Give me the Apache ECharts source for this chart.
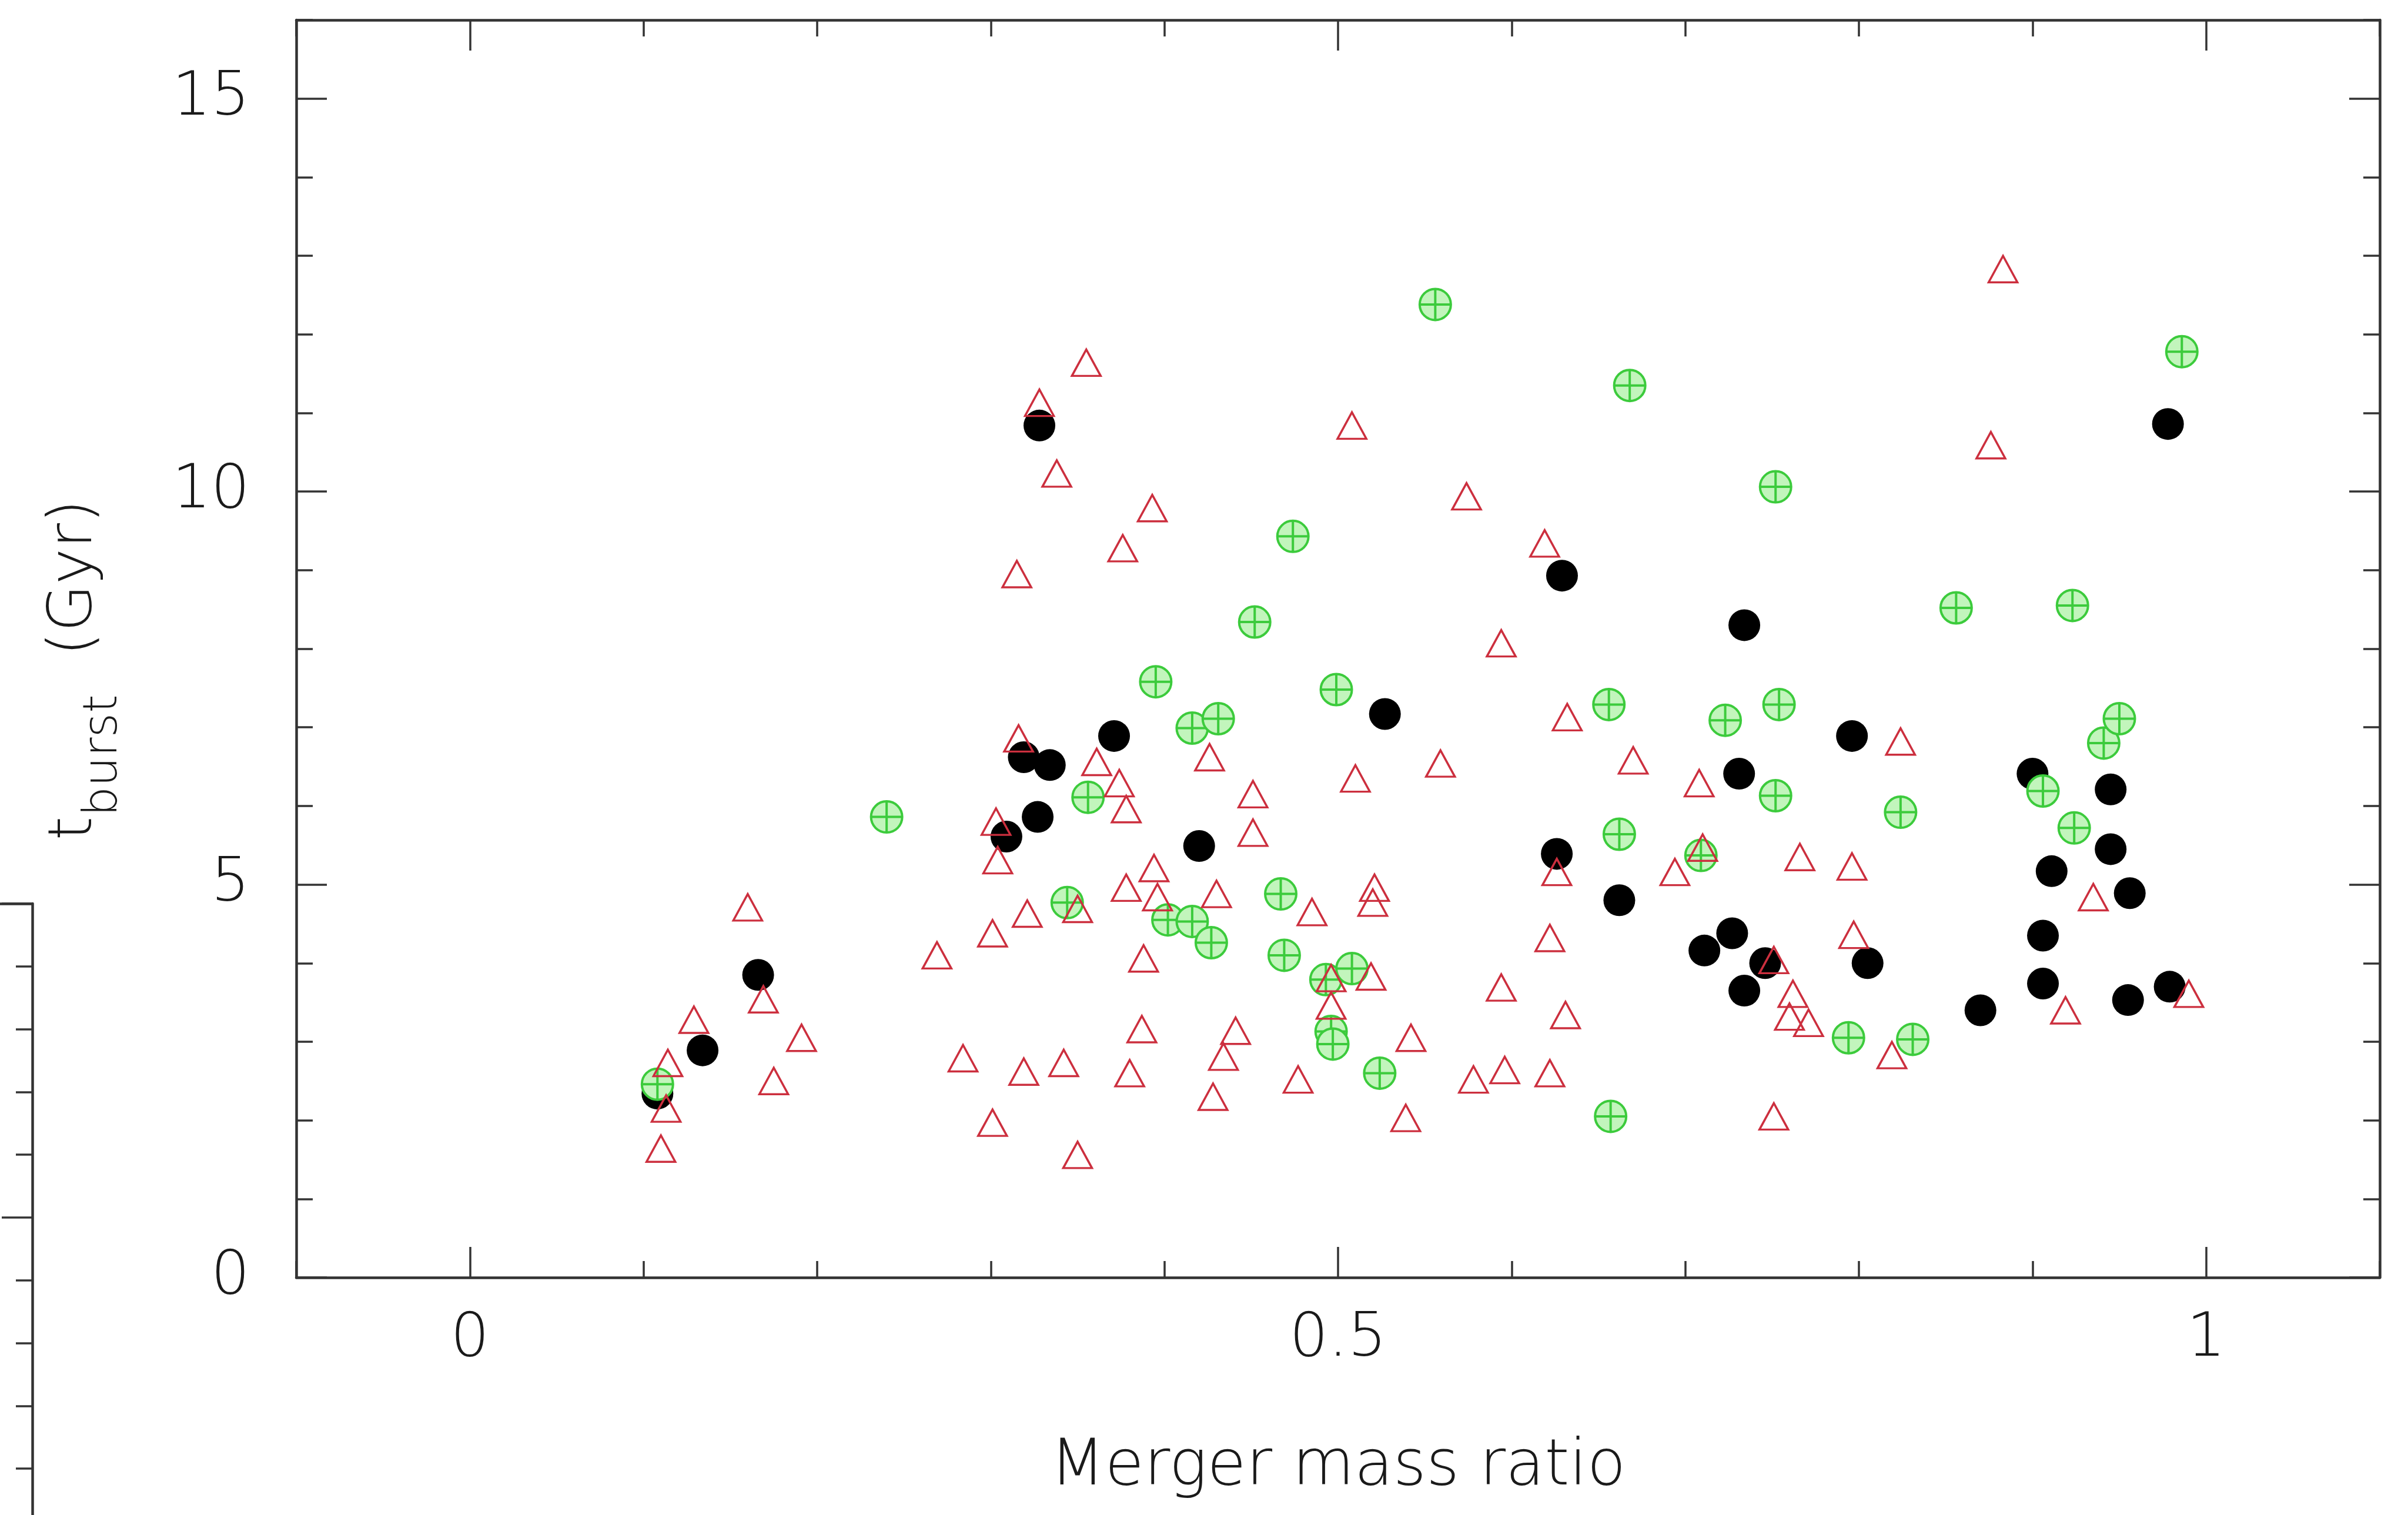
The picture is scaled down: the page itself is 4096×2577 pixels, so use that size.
<!DOCTYPE html>
<html>
<head>
<meta charset="utf-8">
<title>t_burst vs merger mass ratio</title>
<script src="https://cdn.jsdelivr.net/npm/echarts@6/dist/echarts.min.js"></script>
<style>
  html, body { margin: 0; padding: 0; background: #fff; }
  #chart { width: 4096px; height: 2577px; }
</style>
</head>
<body>
<div id="chart"></div>
<script>
// values: merger mass ratio vs t_burst (Gyr)
const blackRatio = [0.108, 0.134, 0.166, 0.328, 0.319, 0.334, 0.309, 0.327, 0.371, 0.420, 0.527,
  0.629, 0.626, 0.662, 0.734, 0.731, 0.711, 0.727, 0.734, 0.746, 0.796, 0.805, 0.870, 0.900,
  0.906, 0.906, 0.911, 0.945, 0.945, 0.956, 0.955, 0.979, 0.978];
const blackT = [2.34, 2.89, 3.85, 10.84, 6.62, 6.52, 5.61, 5.86, 6.89, 5.49, 7.17,
  8.93, 5.39, 4.80, 8.30, 6.41, 4.16, 4.38, 3.65, 4.00, 6.89, 4.00, 3.40, 6.41,
  4.35, 3.74, 5.17, 6.21, 5.45, 4.89, 3.53, 3.70, 10.86];

const greenRatio = [0.108, 0.240, 0.344, 0.356, 0.395, 0.402, 0.416, 0.416, 0.431, 0.427, 0.452,
  0.474, 0.467, 0.469, 0.499, 0.493, 0.508, 0.496, 0.497, 0.524, 0.556, 0.656, 0.662, 0.657,
  0.668, 0.709, 0.723, 0.752, 0.754, 0.752, 0.794, 0.831, 0.824, 0.856, 0.923, 0.906, 0.924,
  0.941, 0.950, 0.986];
const greenT = [2.46, 5.86, 4.77, 6.11, 7.58, 4.55, 6.99, 4.53, 7.11, 4.26, 8.34,
  9.43, 4.88, 4.10, 7.48, 3.79, 3.93, 3.13, 2.97, 2.60, 12.38, 7.29, 5.64, 2.05,
  11.35, 5.37, 7.09, 10.06, 7.29, 6.13, 3.05, 3.03, 5.92, 8.52, 8.55, 6.19, 5.72,
  6.80, 7.11, 11.78];

const redRatio = [0.110, 0.113, 0.114, 0.129, 0.160, 0.169, 0.175, 0.191,
  0.269, 0.284, 0.301, 0.301, 0.303, 0.304, 0.316, 0.315, 0.321, 0.319, 0.328, 0.338, 0.355, 0.342, 0.350, 0.350,
  0.361, 0.374, 0.378, 0.376, 0.393, 0.378, 0.380, 0.388, 0.387, 0.394, 0.396,
  0.426, 0.430, 0.428, 0.434, 0.441, 0.451, 0.451, 0.477, 0.485, 0.496, 0.496, 0.508, 0.510, 0.519, 0.521, 0.520,
  0.539, 0.542, 0.559, 0.574, 0.578, 0.594, 0.594, 0.596, 0.619, 0.622, 0.622, 0.626, 0.631, 0.632,
  0.670, 0.694, 0.708, 0.710, 0.751, 0.751, 0.762, 0.760, 0.771, 0.766, 0.796, 0.797, 0.819, 0.824,
  0.876, 0.883, 0.919, 0.935, 0.990];
const redT = [1.64, 2.15, 2.73, 3.28, 4.71, 3.54, 2.50, 3.05,
  4.10, 2.79, 1.97, 4.38, 5.80, 5.31, 6.86, 8.95, 4.63, 2.62, 11.13, 10.23, 11.64, 2.73, 4.69, 1.56,
  6.56, 6.29, 5.96, 9.28, 9.79, 4.96, 2.60, 4.06, 3.16, 5.21, 4.84,
  6.62, 4.88, 2.30, 2.81, 3.14, 6.15, 5.66, 2.52, 4.65, 3.81, 3.46, 10.84, 6.35, 3.83, 4.96, 4.77,
  2.03, 3.05, 6.54, 9.94, 2.52, 8.07, 3.69, 2.64, 9.34, 4.32, 2.60, 5.16, 3.34, 7.13,
  6.58, 5.16, 6.29, 5.47, 4.04, 2.05, 3.61, 3.32, 3.24, 5.35, 5.23, 4.36, 2.83, 6.82,
  10.59, 12.83, 3.40, 4.84, 3.61];

const xMajorTicks = [0, 0.5, 1];
const yMajorTicks = [0, 5, 10, 15];

const pairs = (xs, ys) => xs.map((x, i) => [x, ys[i]]);

const font = 'DejaVu Sans';
const ink = '#333';
const textInk = '#1a1a1a';
const lineW = 4.5;

// circle with a plus inside (the green marker)
const circlePlus = 'path://M50,2A48,48 0 1 1 50,98A48,48 0 1 1 50,2ZM2,50L98,50M50,2L50,98';

// one axis of the frame; major ticks come from customValues, minor ones from interval
function frameAxis(pos, min, max, opts) {
  return Object.assign({
    type: 'value',
    position: pos,
    min: min,
    max: max,
    axisLine: { show: false, onZero: false, lineStyle: { color: ink, width: lineW } },
    axisTick: { show: true, inside: true, length: 28, lineStyle: { color: ink, width: 3.5 } },
    axisLabel: { show: false },
    splitLine: { show: false }
  }, opts);
}

const majorTick = (vals) => ({ show: true, inside: true, length: 52, customValues: vals, lineStyle: { color: ink, width: 3.5 } });
const tickLabel = (vals, margin) => ({
  show: true, customValues: vals, margin: margin,
  fontFamily: font, fontSize: 104, fontWeight: 200, color: textInk
});
const showLine = { show: true, onZero: false, lineStyle: { color: ink, width: lineW } };

const chart = echarts.init(document.getElementById('chart'));

const option = {
  animation: false,
  backgroundColor: '#fff',
  grid: [
    { left: 504, top: 34, width: 3544, height: 2139, outerBoundsMode: 'none' },
    // bit of the neighbouring panel that shows at the lower left
    { left: -400, top: 1537, width: 455, height: 1068, outerBoundsMode: 'none' }
  ],
  xAxis: [
    frameAxis('bottom', -0.1, 1.1, {
      axisLine: showLine,
      axisTick: majorTick(xMajorTicks),
      axisLabel: tickLabel(xMajorTicks, 54),
      name: 'Merger mass ratio',
      nameLocation: 'middle',
      nameGap: 270,
      nameTextStyle: { fontFamily: font, fontSize: 108, fontWeight: 200, color: textInk }
    }),
    frameAxis('bottom', -0.1, 1.1, { interval: 0.1 }),
    frameAxis('top', -0.1, 1.1, { axisLine: showLine, axisTick: majorTick(xMajorTicks) }),
    frameAxis('top', -0.1, 1.1, { interval: 0.1 }),
    frameAxis('top', 0, 1, { gridIndex: 1, axisLine: showLine, axisTick: { show: false } })
  ],
  yAxis: [
    frameAxis('left', 0, 16, {
      axisLine: showLine,
      axisTick: majorTick(yMajorTicks),
      axisLabel: tickLabel(yMajorTicks, 79),
      name: '{t|t}{s|burst}{m|(Gyr)}',
      nameLocation: 'middle',
      nameGap: 226,
      nameTextStyle: {
        padding: [0, 72, 0, 0],
        rich: {
          t: { fontFamily: font, fontSize: 104, fontWeight: 200, height: 104, verticalAlign: 'top', color: textInk },
          // taller box pushes the subscript down (to the right once rotated)
          s: { fontFamily: font, fontSize: 80, fontWeight: 200, height: 202, verticalAlign: 'top', color: textInk },
          m: { fontFamily: font, fontSize: 104, fontWeight: 200, height: 104, verticalAlign: 'top', color: textInk, padding: [0, 0, 0, 66] }
        }
      }
    }),
    frameAxis('left', 0, 16, { interval: 1 }),
    frameAxis('right', 0, 16, { axisLine: showLine, axisTick: majorTick(yMajorTicks) }),
    frameAxis('right', 0, 16, { interval: 1 }),
    frameAxis('right', 0, 10, {
      gridIndex: 1,
      interval: 5,
      axisLine: showLine,
      axisTick: { show: true, inside: true, length: 52, lineStyle: { color: ink, width: 3.5 } },
      minorTick: { show: true, splitNumber: 5, length: 28, lineStyle: { color: ink, width: 3.5 } }
    })
  ],
  series: [
    {
      type: 'scatter',
      silent: true,
      data: pairs(blackRatio, blackT),
      symbol: 'circle',
      symbolSize: 54,
      itemStyle: { color: '#000', opacity: 1 }
    },
    {
      type: 'scatter',
      silent: true,
      data: pairs(greenRatio, greenT),
      symbol: circlePlus,
      symbolSize: 53,
      itemStyle: { color: '#c2f5bc', borderColor: '#3ccb3c', borderWidth: 4, opacity: 1 }
    },
    {
      type: 'scatter',
      silent: true,
      data: pairs(redRatio, redT),
      symbol: 'triangle',
      symbolSize: [49, 45],
      itemStyle: { color: 'rgba(255,255,255,0)', borderColor: '#cc2f3e', borderWidth: 3.5, opacity: 1 }
    }
  ]
};

chart.setOption(option);
</script>
</body>
</html>
